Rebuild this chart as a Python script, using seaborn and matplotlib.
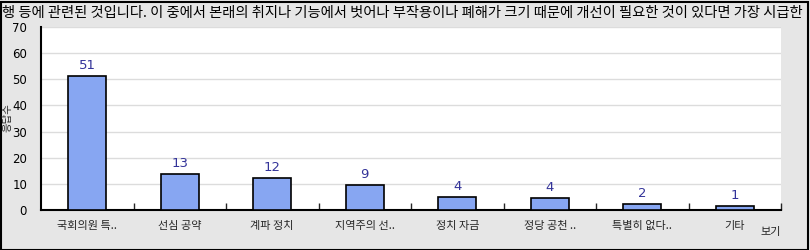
import matplotlib
matplotlib.use("Agg")
import matplotlib.pyplot as plt
import seaborn as sns
import pandas as pd
import numpy as np
from matplotlib.patches import Rectangle
from matplotlib.ticker import MultipleLocator, FixedLocator

categories = ["국회의원 특..", "선심 공약", "계파 정치", "지역주의 선..", "정치 자금", "정당 공천 ..", "특별히 없다..", "기타"]
values = [51.3, 13.8, 12.1, 9.5, 4.8, 4.5, 2.2, 1.4]
value_labels = ["51", "13", "12", "9", "4", "4", "2", "1"]
title_text = "행 등에 관련된 것입니다. 이 중에서 본래의 취지나 기능에서 벗어나 부작용이나 폐해가 크기 때문에 개선이 필요한 것이 있다면 가장 시급한"
y_label = "응답수"
x_label = "보기"

sns.set_style("white")
plt.rcParams['font.family'] = ['Noto Sans CJK KR', 'DejaVu Sans']

W, H = 810, 250
fig = plt.figure(figsize=(W/100, H/100), dpi=100)
fig.patch.set_facecolor("#e6e6e6")
ax = fig.add_axes([41/W, 1-210/H, (781-41)/W, (210-27)/H])
ax.set_facecolor("white")

df = pd.DataFrame({"cat": categories, "val": values})
sns.barplot(data=df, x="cat", y="val", color="#87a6f2", width=0.41,
            edgecolor="black", linewidth=1.2, saturation=1, ax=ax, zorder=3)

ax.set_ylim(0, 70)
ax.set_xlim(-0.5, len(categories)-0.5)
ax.yaxis.set_major_locator(MultipleLocator(10))
ax.yaxis.set_minor_locator(MultipleLocator(5))
ax.grid(axis="y", which="major", color="#dcdcdc", linewidth=1, zorder=0)
ax.set_axisbelow(True)
ax.tick_params(axis="y", which="major", direction="in", length=6, width=1, labelsize=8.5, pad=10, colors="black")
ax.tick_params(axis="y", which="minor", direction="in", length=4, width=1)
ax.set_yticks(range(0, 71, 10))
ax.set_yticklabels([str(v) for v in range(0, 71, 10)], fontfamily="DejaVu Sans")
ax.xaxis.set_minor_locator(FixedLocator(np.arange(0.5, len(categories), 1.0)))
ax.tick_params(axis="x", which="major", length=0, labelsize=8, pad=8)
ax.tick_params(axis="x", which="minor", direction="in", length=5, width=1, bottom=True)
for s in ["top", "right"]:
    ax.spines[s].set_visible(False)
for s in ["left", "bottom"]:
    ax.spines[s].set_color("black")
    ax.spines[s].set_linewidth(1.5)
ax.set_xlabel("")
ax.set_ylabel("")

for i, (v, lab) in enumerate(zip(values, value_labels)):
    ax.annotate(lab, (i, v), xytext=(0, 3), textcoords="offset points",
                ha="center", va="bottom", color="#333399", fontsize=9.5,
                fontfamily="DejaVu Sans")

fig.text(2/W, 1-17/H, title_text, ha="left", va="baseline", fontsize=10.3, color="black")
fig.text(8/W, 1-118/H, y_label, rotation=90, ha="center", va="center", fontsize=7.5)
fig.text(771/W, 1-232/H, x_label, ha="center", va="center", fontsize=8)

fig.add_artist(Rectangle((0.5/W, 0.5/H), 1-2.5/W, 1-2.5/H, transform=fig.transFigure,
                         fill=False, edgecolor="black", linewidth=1.5))

fig.savefig("out.png", dpi=100, facecolor=fig.get_facecolor())
